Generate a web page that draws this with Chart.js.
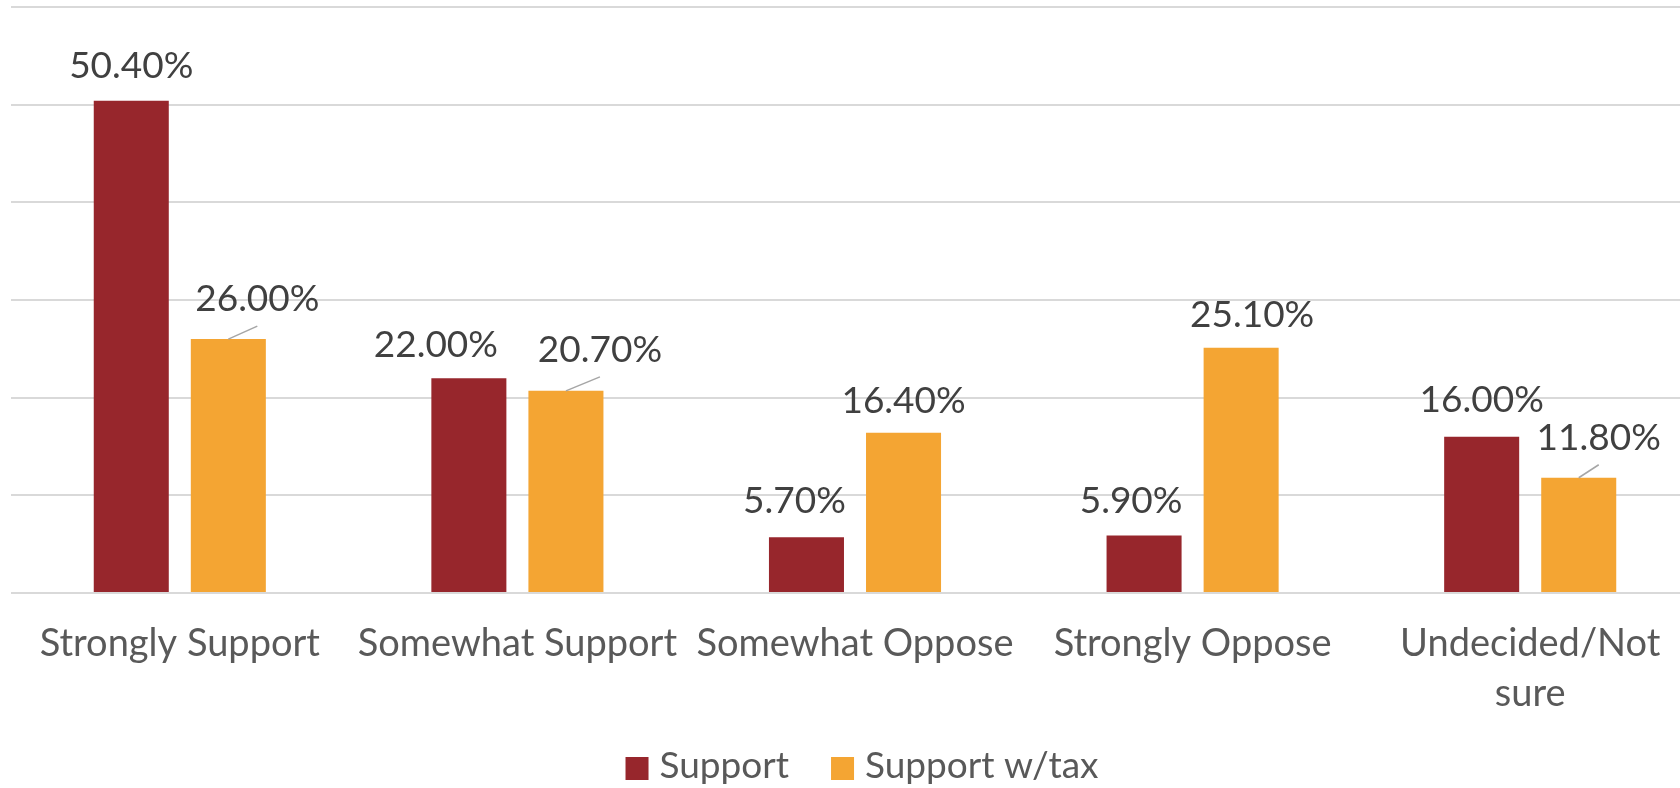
<!DOCTYPE html>
<html>
<head>
<meta charset="utf-8">
<script src="https://cdn.jsdelivr.net/npm/chart.js@4.4.0/dist/chart.umd.min.js"></script>
<style>
html,body{margin:0;padding:0;background:#fff;overflow:hidden;}
#wrap{width:1680px;height:788px;position:relative;overflow:hidden;}
</style>
</head>
<body>
<div id="wrap"><canvas id="c" width="1699" height="788"></canvas></div>
<script>
const categories = ["Strongly Support", "Somewhat Support", "Somewhat Oppose", "Strongly Oppose", ["Undecided/Not", "sure"]];
const seriesNames = ["Support", "Support w/tax"];
const supportValues = [50.4, 22.0, 5.7, 5.9, 16.0];
const supportTaxValues = [26.0, 20.7, 16.4, 25.1, 11.8];
const yTicks = [0, 10, 20, 30, 40, 50, 60];
const seriesColors = ["#97262c", "#f4a533"];

// label placement tweaks (dx, dy from bar top, leader line flag) per dataset
const labelPlacement = [
  [[0,-35,0],[-33,-33,0],[-12,-36,0],[-13,-34,0],[0,-37,0]],
  [[29,-40,1],[34,-41,1],[0,-32,0],[11,-33,0],[20,-40,1]]
];

const FONT = "Lato, 'Open Sans', sans-serif";

const dataLabels = {
  id: 'dataLabels',
  afterDatasetsDraw(chart) {
    const ctx = chart.ctx;
    ctx.save();
    ctx.font = "37px " + FONT;
    ctx.fillStyle = "#404040";
    ctx.textAlign = "center";
    ctx.textBaseline = "middle";
    chart.data.datasets.forEach((ds, di) => {
      const meta = chart.getDatasetMeta(di);
      meta.data.forEach((bar, i) => {
        const p = labelPlacement[di][i];
        const lx = bar.x + p[0];
        const ly = bar.y + p[1];
        ctx.fillText(ds.data[i].toFixed(2) + "%", lx, ly);
        if (p[2]) {
          ctx.strokeStyle = "#a6a6a6";
          ctx.lineWidth = 1.5;
          ctx.beginPath();
          ctx.moveTo(bar.x, bar.y);
          ctx.lineTo(lx, ly + 27);
          ctx.stroke();
        }
      });
    });
    ctx.restore();
  }
};

const customLegend = {
  id: 'customLegend',
  afterDraw(chart) {
    const ctx = chart.ctx;
    ctx.save();
    ctx.font = "37px " + FONT;
    ctx.textBaseline = "middle";
    ctx.textAlign = "left";
    const box = 23, gapText = 11, gapItem = 42;
    const items = chart.data.datasets.map(d => ({ label: d.label, color: d.backgroundColor, w: ctx.measureText(d.label).width }));
    let total = 0;
    items.forEach((it, k) => { total += box + gapText + it.w + (k < items.length - 1 ? gapItem : 0); });
    const cx = (chart.chartArea.left + chart.chartArea.right) / 2 + 7;
    let x = cx - total / 2;
    const cy = 766;
    items.forEach(it => {
      ctx.fillStyle = it.color;
      ctx.fillRect(x, cy - 9, box, box);
      x += box + gapText;
      ctx.fillStyle = "#595959";
      ctx.fillText(it.label, x, cy);
      x += it.w + gapItem;
    });
    ctx.restore();
  }
};

new Chart(document.getElementById('c'), {
  type: 'bar',
  data: {
    labels: categories,
    datasets: [
      { label: seriesNames[0], data: supportValues, backgroundColor: seriesColors[0], borderWidth: 0,
        barPercentage: 0.773, categoryPercentage: 0.575 },
      { label: seriesNames[1], data: supportTaxValues, backgroundColor: seriesColors[1], borderWidth: 0,
        barPercentage: 0.773, categoryPercentage: 0.575 }
    ]
  },
  options: {
    responsive: false,
    animation: false,
    layout: { padding: { top: 7, left: 11, right: 0, bottom: 60 } },
    scales: {
      x: {
        grid: { display: false, drawTicks: false },
        border: { display: false },
        ticks: { color: "#595959", font: { family: FONT, size: 38, lineHeight: 1.31 }, padding: 26,
                 maxRotation: 0, autoSkip: false },
        afterFit: (s) => { s.height = 135; }
      },
      y: {
        min: yTicks[0], max: yTicks[yTicks.length - 1],
        afterBuildTicks: (s) => { s.ticks = yTicks.map(v => ({ value: v })); },
        grid: { color: "#d9d9d9", lineWidth: 2, drawTicks: false },
        border: { display: false },
        ticks: { display: false },
        afterFit: (s) => { s.width = 0; }
      }
    },
    plugins: {
      legend: { display: false },
      tooltip: { enabled: false }
    }
  },
  plugins: [dataLabels, customLegend]
});
</script>
</body>
</html>
